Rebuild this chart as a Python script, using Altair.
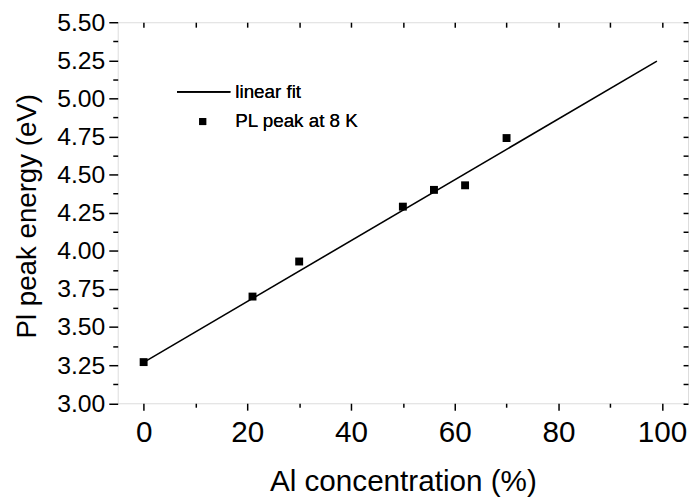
import altair as alt
import pandas as pd

# ---- data ----
al_conc = [0, 21, 30, 50, 56, 62, 70]
pl_peak = [3.27, 3.70, 3.93, 4.29, 4.40, 4.43, 4.74]
fit_x = [0, 99]
fit_y = [3.268, 5.245]
x_ticks = [0, 10, 20, 30, 40, 50, 60, 70, 80, 90, 100]
y_ticks = [3.0, 3.125, 3.25, 3.375, 3.5, 3.625, 3.75, 3.875, 4.0, 4.125, 4.25,
           4.375, 4.5, 4.625, 4.75, 4.875, 5.0, 5.125, 5.25, 5.375, 5.5]
legend_labels = ["linear fit", "PL peak at 8 K"]
x_title = "Al concentration (%)"
y_title = "Pl peak energy (eV)"

FONT = "Liberation Sans"
W, H = 577, 385.5

pts = pd.DataFrame({"x": al_conc, "y": pl_peak})
fit = pd.DataFrame({"x": fit_x, "y": fit_y})

xs = alt.Scale(domain=[-5, 105], nice=False, zero=False)
ys = alt.Scale(domain=[3.0, 5.5], nice=False, zero=False)

x_major = "datum.value % 20 === 0"
y_major = "round(datum.value * 8) % 2 === 0"

x_axis = alt.Axis(
    orient="bottom", values=x_ticks, domain=False, grid=False,
    labelExpr=f"{x_major} ? datum.label : ''",
    tickSize={"condition": {"test": x_major, "value": 7}, "value": 4},
    tickColor="black", tickWidth=1.5, labelFont=FONT, labelFontSize=30,
    labelColor="black", labelPadding=8, labelFlush=False, labelOverlap=False,
    title=x_title, titleFont=FONT, titleFontSize=30, titleFontWeight="normal",
    titleColor="black", titleBaseline="alphabetic", titleY=88, titleX=W / 2,
)
y_axis = alt.Axis(
    orient="left", values=y_ticks, domain=False, grid=False,
    labelExpr=f"{y_major} ? format(datum.value, '.2f') : ''",
    tickSize={"condition": {"test": y_major, "value": 9}, "value": 5},
    tickColor="black", tickWidth=1.5, labelFont=FONT, labelFontSize=25,
    labelColor="black", labelPadding=4, labelFlush=False, labelOverlap=False,
    title=y_title, titleFont=FONT, titleFontSize=28, titleFontWeight="normal",
    titleColor="black", titleBaseline="alphabetic", titleX=-83, titleY=H / 2 + 3,
    titleAngle=270,
)
x_top = alt.Axis(orient="top", values=x_ticks, domain=False, grid=False,
                 labels=False, tickSize=5, offset=-5, tickColor="black",
                 tickWidth=1.5, title=None)
y_right = alt.Axis(orient="right", values=y_ticks, domain=False, grid=False,
                   labels=False, tickSize=5, offset=-5, tickColor="black",
                   tickWidth=1.5, title=None)

points = alt.Chart(pts).mark_point(shape="square", filled=True, size=64,
                                   color="black", opacity=1).encode(
    x=alt.X("x:Q", scale=xs, axis=x_axis),
    y=alt.Y("y:Q", scale=ys, axis=y_axis),
)
line = alt.Chart(fit).mark_line(color="black", strokeWidth=1.6).encode(
    x=alt.X("x:Q", scale=xs, axis=x_top),
    y=alt.Y("y:Q", scale=ys, axis=y_right),
)

# legend drawn by hand
leg_line = alt.Chart(fit).mark_rule(color="black", strokeWidth=1.6).encode(
    x=alt.value(60), x2=alt.value(114), y=alt.value(70.5))
leg_sq = alt.Chart(fit).mark_point(shape="square", filled=True, size=50,
                                   color="black", opacity=1).encode(
    x=alt.value(86), y=alt.value(100.5))
leg_t1 = alt.Chart(fit).mark_text(align="left", baseline="middle", font=FONT,
                                  fontSize=19, color="black",
                                  text=legend_labels[0]).encode(
    x=alt.value(119), y=alt.value(70.5))
leg_t2 = alt.Chart(fit).mark_text(align="left", baseline="middle", font=FONT,
                                  fontSize=19, color="black",
                                  text=legend_labels[1]).encode(
    x=alt.value(119), y=alt.value(100.5))

chart = alt.layer(line, points, leg_line, leg_sq, leg_t1, leg_t2).resolve_axis(
    x="independent", y="independent"
).properties(
    width=W, height=H,
    padding={"left": 111, "top": 11.5, "right": 2, "bottom": 96},
    autosize=alt.AutoSizeParams(type="none"),
).configure_view(stroke="black", strokeWidth=1.5).configure(background="white")

chart.save("out.html", embed_options={"renderer": "svg", "actions": False})
